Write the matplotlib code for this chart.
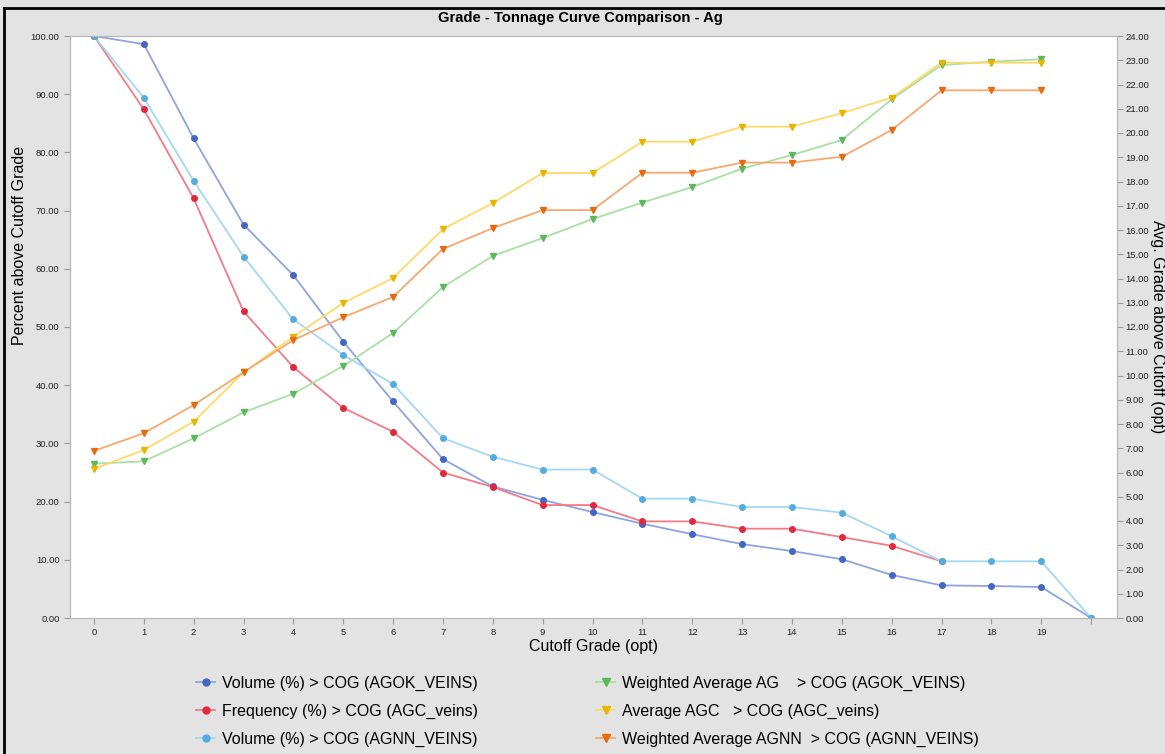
import matplotlib
matplotlib.use("Agg")
import matplotlib.pyplot as plt
from matplotlib.lines import Line2D
from matplotlib.ticker import FormatStrFormatter

plt.rcParams['font.family'] = ['Liberation Sans', 'DejaVu Sans']

# ---- data ----
cutoff = list(range(0, 21))
x_tick_labels = [str(i) for i in range(20)] + ['']

vol_agok = [100, 98.6, 82.4, 67.6, 58.9, 47.5, 37.2, 27.3, 22.6, 20.3, 18.2,
            16.2, 14.4, 12.7, 11.5, 10.1, 7.4, 5.6, 5.5, 5.33, 0]
freq_agc = [100, 87.4, 72.1, 52.7, 43.1, 36.1, 32.0, 25.0, 22.5, 19.4, 19.4,
            16.6, 16.6, 15.35, 15.35, 13.9, 12.4, 9.74]
vol_agnn = [100, 89.4, 75.1, 62.1, 51.3, 45.2, 40.2, 30.9, 27.7, 25.5, 25.5,
            20.5, 20.5, 19.07, 19.07, 18.1, 14.05, 9.74, 9.74, 9.74, 0]

wavg_ag = [6.36, 6.46, 7.41, 8.48, 9.25, 10.39, 11.75, 13.65, 14.93, 15.67, 16.45,
           17.13, 17.77, 18.53, 19.09, 19.71, 21.39, 22.80, 22.94, 23.04]
avg_agc = [6.14, 6.93, 8.10, 10.13, 11.60, 12.99, 14.02, 16.04, 17.11, 18.35, 18.35,
           19.64, 19.64, 20.26, 20.26, 20.82, 21.46, 22.90, 22.90, 22.90]
wavg_agnn = [6.89, 7.62, 8.78, 10.13, 11.46, 12.40, 13.24, 15.22, 16.08, 16.82, 16.82,
             18.36, 18.36, 18.78, 18.78, 19.02, 20.12, 21.76, 21.76, 21.76]

labels_left = ["Volume (%) > COG (AGOK_VEINS)",
               "Frequency (%) > COG (AGC_veins)",
               "Volume (%) > COG (AGNN_VEINS)"]
labels_right = ["Weighted Average AG    > COG (AGOK_VEINS)",
                "Average AGC   > COG (AGC_veins)",
                "Weighted Average AGNN  > COG (AGNN_VEINS)"]

# ---- styles ----
BG = '#e3e3e3'
c_vol_agok = ('#4466c4', '#8ea3e0')
c_freq = ('#e0293e', '#f37a87')
c_vol_agnn = ('#55acde', '#a3d8f5')
c_wag = ('#5cb85c', '#a9e0a3')
c_agc = ('#e8b400', '#ffd966')
c_agnn = ('#e66a10', '#f8a86e')

fig = plt.figure(figsize=(11.65, 7.54), dpi=100, facecolor=BG)
ax = fig.add_axes([70/1165, 136/754, 1047/1165, 582/754])
ax.set_facecolor('white')
ax2 = ax.twinx()

def draw(a, y, cols, marker, ms):
    xs = cutoff[:len(y)]
    a.plot(xs, y, color=cols[1], lw=1.3, zorder=2)
    a.plot(xs, y, ls='none', marker=marker, ms=ms, mfc=cols[0], mec=cols[0], zorder=3)

draw(ax, vol_agok, c_vol_agok, 'o', 4)
draw(ax, freq_agc, c_freq, 'o', 4)
draw(ax, vol_agnn, c_vol_agnn, 'o', 4)
draw(ax2, wavg_ag, c_wag, 'v', 5)
draw(ax2, avg_agc, c_agc, 'v', 5)
draw(ax2, wavg_agnn, c_agnn, 'v', 5)

ax.set_xlim(-0.48, 20.52)
ax.set_ylim(0, 100)
ax2.set_ylim(0, 24)
ax.set_xticks(cutoff)
ax.set_xticklabels(x_tick_labels)
ax.set_yticks(range(0, 101, 10))
ax2.set_yticks(range(0, 25, 1))
ax.yaxis.set_major_formatter(FormatStrFormatter('%.2f'))
ax2.yaxis.set_major_formatter(FormatStrFormatter('%.2f'))

for a in (ax, ax2):
    for s in a.spines.values():
        s.set_color('#b8b8b8')
    a.tick_params(colors='#9a9a9a', labelcolor='#222222', labelsize=6.8, length=4, width=0.8)
ax.tick_params(axis='x', pad=3)
ax2.tick_params(axis='y', pad=2)

ax.set_xlabel("Cutoff Grade (opt)", fontsize=11.5, labelpad=2)
ax.set_ylabel("Percent above Cutoff Grade", fontsize=11.5, va='center')
ax2.set_ylabel("Avg. Grade above Cutoff (opt)", fontsize=11.5, rotation=270, va='center')
ax.yaxis.set_label_coords((20 - 70) / 1047, (618 - 245) / 582)
ax2.yaxis.set_label_coords((1157 - 70) / 1047, 0.5)

fig.text(580/1165, 1 - 18/754, "Grade - Tonnage Curve Comparison - Ag",
         ha='center', va='center', fontsize=10.6, fontweight='bold')

def handle(cols, marker, ms):
    return Line2D([], [], color=cols[1], lw=1.3, marker=marker, ms=ms,
                  mfc=cols[0], mec=cols[0])

h_left = [handle(c_vol_agok, 'o', 5), handle(c_freq, 'o', 5), handle(c_vol_agnn, 'o', 5)]
h_right = [handle(c_wag, 'v', 6), handle(c_agc, 'v', 6), handle(c_agnn, 'v', 6)]

leg_kw = dict(loc='upper left', frameon=False, fontsize=11.5, handlelength=1.2,
              handletextpad=0.4, labelspacing=0.8, borderaxespad=0, borderpad=0)
fig.legend(h_left, labels_left, bbox_to_anchor=(196/1165, 1 - 676/754), **leg_kw)
fig.legend(h_right, labels_right, bbox_to_anchor=(596/1165, 1 - 676/754), **leg_kw)

# figure frame lines (left and top)
fig.add_artist(Line2D([4/1165, 4/1165], [0, 1 - 8/754], transform=fig.transFigure,
                      color='black', lw=2))
fig.add_artist(Line2D([4/1165, 1], [1 - 8/754, 1 - 8/754], transform=fig.transFigure,
                      color='black', lw=2))

fig.savefig("out.png", dpi=100, facecolor=BG)
